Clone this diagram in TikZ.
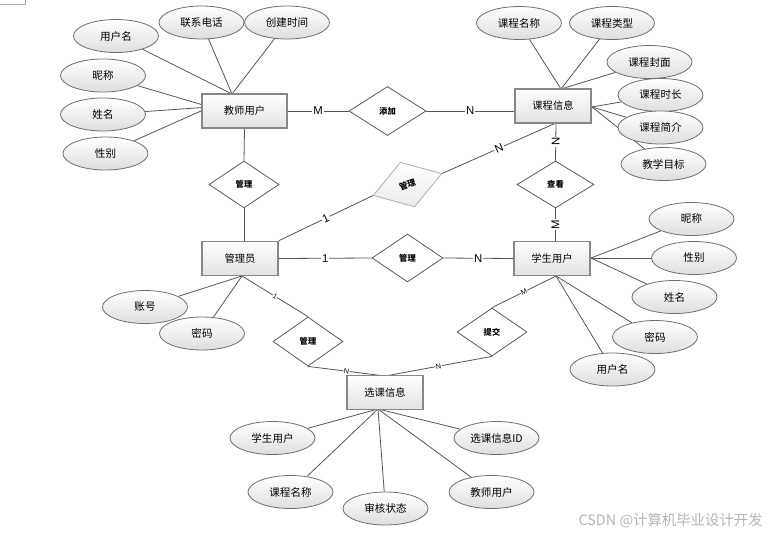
\documentclass[tikz,border=0pt]{standalone}
\usepackage{fontspec}
\setmainfont{Liberation Sans}
\newfontfamily\cjk{Noto Sans CJK SC}
\usetikzlibrary{shapes.geometric,backgrounds,calc}
\definecolor{linec}{RGB}{85,85,85}
\definecolor{entb}{RGB}{135,135,135}
\definecolor{entf}{RGB}{226,226,226}
\definecolor{attb}{RGB}{110,110,110}
\definecolor{attf}{RGB}{222,222,222}
\definecolor{relb}{RGB}{90,90,90}
\definecolor{relc}{RGB}{175,175,175}
\definecolor{wmark}{RGB}{180,180,180}
\begin{document}
\begin{tikzpicture}[x=0.75pt,y=-0.75pt,
 conn/.style={draw=linec, line width=0.6pt},
 ent/.style={rectangle, draw=entb, line width=1.2pt, top color=white, bottom color=entf,
   minimum width=57pt, minimum height=25.5pt, inner sep=0pt, font=\cjk\fontsize{7.7}{9}\selectfont},
 attr/.style={ellipse, draw=attb, line width=0.6pt, top color=white, bottom color=attf,
   minimum width=63.75pt, minimum height=24.75pt, inner sep=0pt, font=\cjk\fontsize{7.9}{9}\selectfont},
 rel/.style={diamond, draw=relb, line width=0.6pt, fill=white, minimum width=53pt,
   minimum height=36pt, inner sep=0pt, font=\cjk\bfseries\fontsize{6.2}{7}\selectfont},
 card/.style={fill=white, inner sep=0.8pt, font=\fontsize{8.5}{9}\selectfont},
 cards/.style={fill=white, inner sep=0.4pt, font=\fontsize{5.4}{6}\selectfont}
]
\useasboundingbox (0,0) rectangle (771,536);
\draw[relc, line width=0.5pt] (0,4) -- (25,4) -- (25,0);

% entities
\node[ent, minimum width=63.75pt] (t) at (244.5,111) {教师用户};
\node[ent] (c) at (553,106) {课程信息};
\node[ent] (m) at (240,258.5) {管理员};
\node[ent] (s) at (552,258.5) {学生用户};
\node[ent] (x) at (385,392.5) {选课信息};

% attributes
\node[attr] (a1) at (116,36) {用户名};
\node[attr] (a2) at (201.5,22.5) {联系电话};
\node[attr] (a3) at (287,22.5) {创建时间};
\node[attr] (a4) at (103,75.5) {昵称};
\node[attr] (a5) at (103,114.5) {姓名};
\node[attr] (a6) at (105.5,153.5) {性别};
\node[attr] (b1) at (519,23) {课程名称};
\node[attr] (b2) at (612,23) {课程类型};
\node[attr] (b3) at (649.5,62) {课程封面};
\node[attr] (b4) at (660.5,95) {课程时长};
\node[attr] (b5) at (660.5,127.5) {课程简介};
\node[attr] (b6) at (663.5,164) {教学目标};
\node[attr] (s1) at (691.5,219) {昵称};
\node[attr] (s2) at (694,258) {性别};
\node[attr] (s3) at (674.5,297) {姓名};
\node[attr] (s4) at (655,337) {密码};
\node[attr] (s5) at (612.5,369.5) {用户名};
\node[attr] (m1) at (145,307) {账号};
\node[attr] (m2) at (202,333.5) {密码};
\node[attr] (x1) at (272.5,438) {学生用户};
\node[attr] (x2) at (496.5,438) {选课信息ID};
\node[attr] (x3) at (290.5,492) {课程名称};
\node[attr] (x4) at (385.5,508.5) {审核状态};
\node[attr] (x5) at (491.5,492) {教师用户};

% relationships
\node[rel, minimum width=57.75pt, minimum height=36.75pt] (r1) at (387.5,111) {添加};
\node[rel, minimum width=52.5pt, minimum height=35.25pt] (r2) at (244,184.5) {管理};
\node[rel, draw=relc, top color=white, bottom color=attf!60, minimum width=54pt, minimum height=35.25pt, rotate=17.7] (r3) at (407.5,184.5) {管理};
\node[rel, minimum width=57.75pt, minimum height=35.25pt] (r4) at (555.5,184.5) {查看};
\node[rel, minimum width=53.25pt, minimum height=36pt] (r5) at (407.5,258) {管理};
\node[rel, minimum width=52.5pt, minimum height=36.75pt] (r6) at (308,341.5) {管理};
\node[rel, minimum width=52.5pt, minimum height=36pt] (r7) at (492,332) {提交};

% convergence points
\coordinate (ttop) at (232,94);
\coordinate (tleft) at (210,107);
\coordinate (ctop) at (561,89);
\coordinate (cright) at (592,107);
\coordinate (cbot) at (556,123);
\coordinate (cin) at ($(c.west)+(0,5)$);
\coordinate (sright) at (591,258);
\coordinate (sbot) at (556,276);
\coordinate (mbot) at (242,276);
\coordinate (xbot) at (378,409);
\coordinate (xtop) at (385,376);

\begin{scope}[on background layer]
\foreach \e in {a1,a2,a3} \draw[conn] (\e) -- (ttop);
\foreach \e in {a4,a5,a6} \draw[conn] (\e) -- (tleft);
\foreach \e in {b1,b2,b3} \draw[conn] (\e) -- (ctop);
\foreach \e in {b4,b5,b6} \draw[conn] (\e) -- (cright);
\foreach \e in {s1,s2,s3} \draw[conn] (\e) -- (sright);
\foreach \e in {s4,s5} \draw[conn] (\e) -- (sbot);
\foreach \e in {m1,m2} \draw[conn] (\e) -- (mbot);
\foreach \e in {x1,x2,x3,x4,x5} \draw[conn] (\e) -- (xbot);

\draw[conn] (t.east) -- node[card]{M} (r1.west);
\draw[conn] (r1.east) -- node[card]{N} (cin);
\draw[conn] (t.south) -- (r2.north);
\draw[conn] (r2.south) -- (r2.south |- m.north);
\draw[conn] (m.north east) -- node[card, sloped]{1} (r3.west);
\draw[conn] (r3.east) -- node[card, sloped]{N} (cbot);
\draw[conn] (cbot) -- node[card, rotate=90]{N} (r4.north);
\draw[conn] (r4.south) -- node[card, rotate=90]{M} (r4.south |- s.north);
\draw[conn] (m.east) -- node[card]{1} (r5.west);
\draw[conn] (r5.east) -- node[card]{N} (s.west);
\draw[conn] (mbot) -- node[cards, sloped]{1} (r6.north);
\draw[conn] (r6.south) -- node[cards, sloped]{N} (xtop);
\draw[conn] (sbot) -- node[cards, sloped]{M} (r7.north);
\draw[conn] (r7.south) -- node[cards, sloped]{N} (xtop);
\end{scope}

\node[anchor=east, text=wmark, inner sep=0pt, font=\cjk\fontsize{10.8}{12}\selectfont] (wm) at (763,521) {CSDN @计算机毕业设计开发};
\end{tikzpicture}
\end{document}
